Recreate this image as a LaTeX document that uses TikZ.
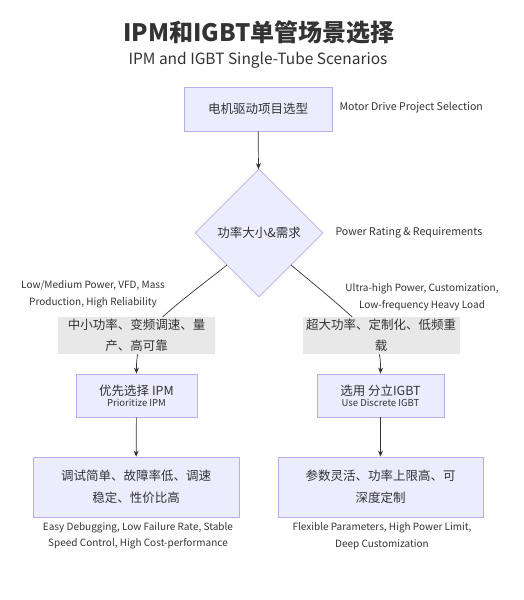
\documentclass[tikz,border=0pt]{standalone}
\usepackage{fontspec}
\setmainfont{Noto Sans CJK SC}
\usetikzlibrary{shapes.geometric,arrows.meta}
\definecolor{boxfill}{HTML}{ECECFF}
\definecolor{boxline}{HTML}{B8AEE8}
\definecolor{lblfill}{HTML}{E8E8E8}
\definecolor{txt}{HTML}{333333}
\tikzset{
  procbox/.style={draw=boxline, fill=boxfill, line width=0.8pt, text=txt, align=center, inner sep=0pt},
  dec/.style={diamond, draw=boxline, fill=boxfill, line width=0.8pt, text=txt, minimum width=128pt, minimum height=128pt, inner sep=0pt, aspect=1},
  cjk/.style={font=\fontsize{12.5}{19}\selectfont},
  eng/.style={font=\fontsize{10}{16.5}\selectfont, text=txt, align=center},
  elbl/.style={fill=lblfill, text=txt, align=center, font=\fontsize{12.5}{21}\selectfont, minimum width=157pt, minimum height=37pt, inner sep=0pt},
  conn/.style={draw=txt, line width=0.7pt, -{Stealth[length=6pt,width=5pt]}},
}
\begin{document}
\begin{tikzpicture}[x=1pt,y=-1pt]
\useasboundingbox[fill=white] (0,0) rectangle (523,600);
\node[font=\bfseries\fontsize{24}{28}\selectfont, text=txt] (title) at (259,32) {IPM和IGBT单管场景选择};
\node[font=\fontsize{15.5}{18}\selectfont, text=txt] (sub) at (258,60) {IPM and IGBT Single-Tube Scenarios};

\node[procbox, cjk, minimum width=148pt, minimum height=44pt] (b1) at (258,109) {电机驱动项目选型};
\node[eng, font=\fontsize{10.6}{13}\selectfont, anchor=west] (b1l) at (336,108) {Motor Drive Project Selection};

\node[dec, cjk] (d) at (259,233) {功率大小\&需求};
\node[eng, font=\fontsize{10.6}{13}\selectfont, anchor=west] (dl) at (332,233) {Power Rating \& Requirements};

\node[procbox, minimum width=121pt, minimum height=43pt] (b2) at (136.5,395.5) {{\fontsize{12.5}{16}\selectfont 优先选择 IPM}\\[-1pt]{\fontsize{9.5}{12}\selectfont Prioritize IPM}};
\node[procbox, minimum width=127pt, minimum height=43pt] (b3) at (380.5,395.5) {{\fontsize{12.5}{16}\selectfont 选用 分立IGBT}\\[-1pt]{\fontsize{9.5}{12}\selectfont Use Discrete IGBT}};

\node[procbox, cjk, minimum width=206pt, minimum height=60pt, font=\fontsize{12.5}{22}\selectfont] (b4) at (136,487) {调试简单、故障率低、调速\\稳定、性价比高};
\node[procbox, cjk, minimum width=205pt, minimum height=60pt, font=\fontsize{12.5}{22}\selectfont] (b5) at (380.5,487) {参数灵活、功率上限高、可\\深度定制};

\node[eng] (b4l) at (138,536) {Easy Debugging, Low Failure Rate, Stable\\Speed Control, High Cost-performance};
\node[eng] (b5l) at (382,536) {Flexible Parameters, High Power Limit,\\Deep Customization};

\draw[conn] (b1) -- (d);
\draw[conn] (d.south west) .. controls (150,325) and (136,335) .. (b2.north);
\draw[conn] (d.south east) .. controls (372,332) and (381,340) .. (b3.north);
\draw[conn] (b2) -- (b4);
\draw[conn] (b3) -- (b5);

\node[elbl] (l1) at (136.5,335.5) {中小功率、变频调速、量\\产、高可靠};
\node[elbl] (l2) at (381,335.5) {超大功率、定制化、低频重\\载};
\node[eng] (l1e) at (93,294.5) {Low/Medium Power, VFD, Mass\\Production, High Reliability};
\node[eng] (l2e) at (422,297) {Ultra-high Power, Customization,\\Low-frequency Heavy Load};
\end{tikzpicture}
\end{document}
